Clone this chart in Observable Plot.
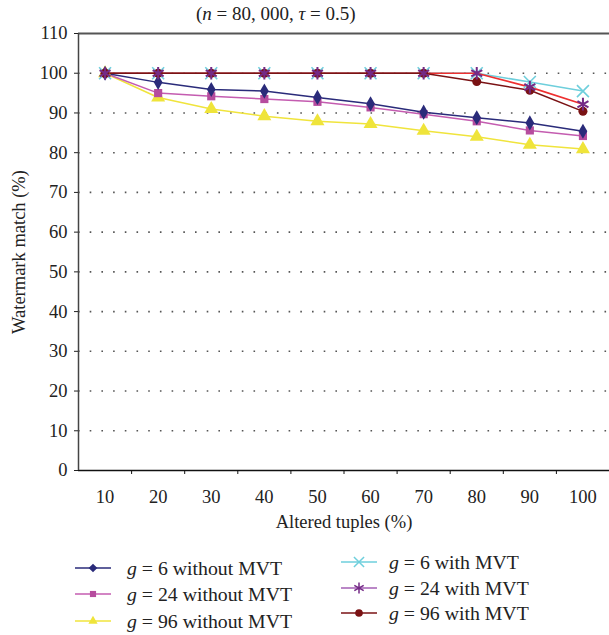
<!DOCTYPE html>
<html>
<head>
<meta charset="utf-8">
<script src="https://cdn.jsdelivr.net/npm/d3@7"></script>
<script src="https://cdn.jsdelivr.net/npm/@observablehq/plot@0.6"></script>
<style>
  body { margin: 0; background: #fff; font-family: "Liberation Serif", "DejaVu Serif", serif; }
  #wrap { position: relative; width: 609px; height: 635px; overflow: hidden; }
  #title { position: absolute; top: 3px; left: 196px; font-size: 19px; color: #222; white-space: nowrap; }
  #chart { position: absolute; top: 0; left: 0; }
  .leg { position: absolute; display: flex; align-items: center; font-size: 19.8px; color: #222; white-space: nowrap; }
  .leg svg { margin-right: 16px; }
  .leg.right svg { margin-right: 12px; }
</style>
</head>
<body>
<div id="wrap">
  <div id="chart"></div>
  <div id="title">(<i>n</i> = 80, 000, <i>τ</i> = 0.5)</div>
  <div id="legend"></div>
</div>
<script>
// ---- data ----
const altered = [10, 20, 30, 40, 50, 60, 70, 80, 90, 100];
const g6Without  = [100, 97.7, 95.9, 95.5, 93.9, 92.3, 90.2, 88.8, 87.5, 85.4];
const g24Without = [100, 95.0, 94.2, 93.5, 92.8, 91.4, 89.7, 87.9, 85.6, 84.2];
const g96Without = [100, 93.9, 91.0, 89.2, 87.9, 87.2, 85.5, 84.0, 82.0, 80.9];
const g6With     = [100, 100, 100, 100, 100, 100, 100, 100, 97.8, 95.5];
const g24With    = [100, 100, 100, 100, 100, 100, 100, 100, 96.5, 92.2];
const g96With    = [100, 100, 100, 100, 100, 100, 100, 97.9, 95.7, 90.4];
const seriesNames = ["g6Without", "g24Without", "g96Without", "g6With", "g24With", "g96With"];
const legendLabels = ["6 without MVT", "24 without MVT", "96 without MVT", "6 with MVT", "24 with MVT", "96 with MVT"];
const yTicks = [0, 10, 20, 30, 40, 50, 60, 70, 80, 90, 100, 110];
const gridValues = [10, 20, 30, 40, 50, 60, 70, 80, 90, 100];
const xBoundaries = [15, 25, 35, 45, 55, 65, 75, 85, 95];
const xDomain = [5, 105];
const yDomain = [0, 110];

// ---- styles ----
const style = {
  g6Without:  {line: "#2a2b7a", fill: "#2a2b7a", stroke: "none", symbol: "diamond", r: 4.6, lw: 1.5},
  g24Without: {line: "#c45cb0", fill: "#b64c9e", stroke: "none", symbol: "square", r: 4.6, lw: 1.5},
  g96Without: {line: "#f0e43c", fill: "#efe43a", stroke: "none", symbol: "triangle", r: 5.2, lw: 1.5},
  g6With:     {line: "#6ecfdc", fill: "none", stroke: "#6ecfdc", symbol: "times", r: 5.5, lw: 1.5},
  g24With:    {line: "#ee3030", fill: "none", stroke: "#742a86", symbol: "asterisk", r: 6, lw: 1.6, legLine: "#a35fb5"},
  g96With:    {line: "#7a1214", fill: "#7a1214", stroke: "none", symbol: "circle", r: 4.5, lw: 1.5}
};
const dataBy = {g6Without, g24Without, g96Without, g6With, g24With, g96With};
const rows = name => altered.map((x, i) => ({x, y: dataBy[name][i]}));

const lineOrder = ["g96Without", "g24Without", "g6Without", "g6With", "g24With", "g96With"];
const dotOrder = ["g96Without", "g24Without", "g6Without", "g6With", "g96With", "g24With"];

const marks = [
  Plot.ruleY(gridValues, {stroke: "#555", strokeWidth: 1.6, strokeDasharray: "1.6,10.1", strokeLinecap: "butt"}),
  ...lineOrder.map(n => Plot.line(rows(n), {x: "x", y: "y", stroke: style[n].line, strokeWidth: style[n].lw})),
  ...dotOrder.map(n => Plot.dot(rows(n), {x: "x", y: "y", symbol: () => style[n].symbol, r: style[n].r,
      fill: style[n].fill, stroke: style[n].stroke, strokeWidth: n === "g24With" ? 2 : 1.6})),
  Plot.ruleY([110], {stroke: "#555", strokeWidth: 2.2}),
  Plot.ruleY([0], {stroke: "#111", strokeWidth: 1.5}),
  Plot.ruleX([xDomain[0]], {stroke: "#444", strokeWidth: 1.5}),
  Plot.axisY({ticks: yTicks, tickSize: 4, tickPadding: 7, fontSize: 18.5, label: "Watermark match (%)",
      labelAnchor: "center", labelOffset: 67, labelArrow: "none", color: "#222"}),
  Plot.axisX({ticks: xBoundaries, tickSize: 4, tickFormat: () => "", label: null, color: "#111"}),
  Plot.axisX({ticks: altered, tickSize: 0, tickPadding: 19, fontSize: 18.5, label: "Altered tuples (%)",
      labelAnchor: "center", labelOffset: 57, labelArrow: "none", color: "#222"})
];

const chart = Plot.plot({
  width: 609,
  height: 535,
  marginTop: 33,
  marginBottom: 65,
  marginLeft: 78,
  marginRight: 0,
  style: {fontFamily: "'Liberation Serif', 'DejaVu Serif', serif", fontSize: "18.5px", color: "#222", background: "#fff"},
  x: {domain: xDomain},
  y: {domain: yDomain},
  symbol: {type: "identity"},
  marks
});
document.getElementById("chart").appendChild(chart);

// ---- legend ----
const legPos = [
  {left: 75, top: 568}, {left: 75, top: 594}, {left: 75, top: 621},
  {left: 341, top: 562}, {left: 341, top: 588}, {left: 341, top: 613}
];
const symPath = (sym, r) => d3.symbol(
  {diamond: d3.symbolDiamond2, square: d3.symbolSquare2, triangle: d3.symbolTriangle2, times: d3.symbolTimes,
   asterisk: d3.symbolAsterisk, circle: d3.symbolCircle}[sym], r * r * Math.PI)();
const legend = document.getElementById("legend");
seriesNames.forEach((n, i) => {
  const s = style[n];
  const div = document.createElement("div");
  div.className = "leg" + (i >= 3 ? " right" : "");
  div.style.left = legPos[i].left + "px";
  div.style.top = (legPos[i].top - 12) + "px";
  div.style.height = "24px";
  const lc = s.legLine || s.line;
  const rr = s.r * 0.85;
  div.innerHTML = `<svg width="36" height="24"><line x1="0" x2="36" y1="12" y2="12" stroke="${lc}" stroke-width="1.6"/>` +
    `<path transform="translate(18,12)" d="${symPath(s.symbol, rr)}" fill="${s.fill}" stroke="${s.stroke}" stroke-width="1.5"/></svg>` +
    `<span><i>g</i> = ${legendLabels[i]}</span>`;
  legend.appendChild(div);
});
</script>
</body>
</html>
